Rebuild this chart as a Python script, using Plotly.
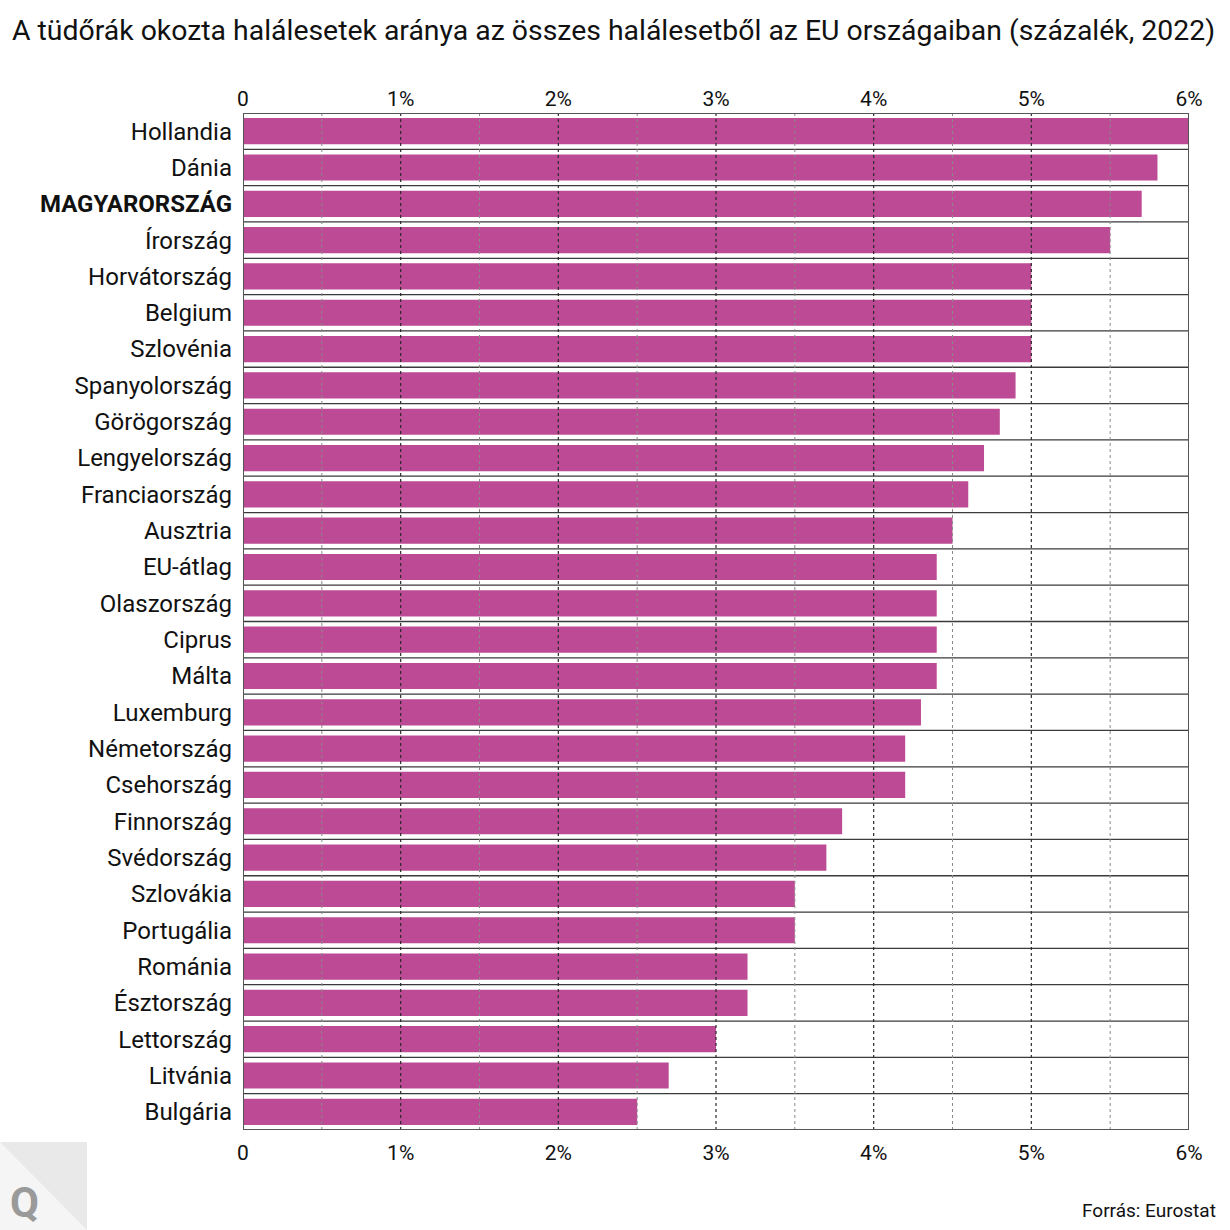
import plotly.graph_objects as go

countries = ["Hollandia", "Dánia", "MAGYARORSZÁG", "Írország", "Horvátország", "Belgium",
             "Szlovénia", "Spanyolország", "Görögország", "Lengyelország", "Franciaország",
             "Ausztria", "EU-átlag", "Olaszország", "Ciprus", "Málta", "Luxemburg",
             "Németország", "Csehország", "Finnország", "Svédország", "Szlovákia",
             "Portugália", "Románia", "Észtország", "Lettország", "Litvánia", "Bulgária"]
values = [6.0, 5.8, 5.7, 5.5, 5.0, 5.0, 5.0, 4.9, 4.8, 4.7, 4.6, 4.5, 4.4, 4.4, 4.4, 4.4,
          4.3, 4.2, 4.2, 3.8, 3.7, 3.5, 3.5, 3.2, 3.2, 3.0, 2.7, 2.5]
tick_vals = [0, 1, 2, 3, 4, 5, 6]
tick_text = ["0", "1%", "2%", "3%", "4%", "5%", "6%"]
minor_vals = [0.5, 1.5, 2.5, 3.5, 4.5, 5.5]
highlight = "MAGYARORSZÁG"

BAR = "#bd4a94"
FONT = "Roboto"
W = H = 1230
L, R, T, B = 243, 41, 113, 100

n = len(countries)
ylabels = [f"<b>{c}</b>" if c == highlight else c for c in countries]

fig = go.Figure()
fig.add_trace(go.Bar(
    x=values, y=list(range(n)), orientation="h",
    marker=dict(color=BAR, line=dict(width=0)),
    width=0.72, hoverinfo="x+y", showlegend=False,
))
# invisible trace to activate the bottom axis
fig.add_trace(go.Scatter(x=[0, 6], y=[0, 0], xaxis="x2", mode="markers",
                         marker=dict(opacity=0), hoverinfo="skip", showlegend=False))

shapes = []
for i in range(n - 1):
    shapes.append(dict(type="line", xref="x", yref="y", x0=0, x1=6, y0=i + 0.5, y1=i + 0.5,
                       line=dict(color="#3a3a3a", width=1.3), layer="above"))
for v in minor_vals:
    shapes.append(dict(type="line", xref="x", yref="y", x0=v, x1=v, y0=-0.5, y1=n - 0.5,
                       line=dict(color="#8a8a8a", width=1, dash="3px,3px"), layer="above"))
for v in tick_vals[1:-1]:
    shapes.append(dict(type="line", xref="x", yref="y", x0=v, x1=v, y0=-0.5, y1=n - 0.5,
                       line=dict(color="#2a2a2a", width=1.2, dash="3px,3px"), layer="above"))
shapes.append(dict(type="rect", xref="x", yref="y", x0=0, x1=6, y0=-0.5, y1=n - 0.5,
                   line=dict(color="#555555", width=2), layer="above"))


def px_x(p):
    return (p - L) / (W - L - R)


def px_y(p):
    return (H - B - p) / (H - T - B)


# logo
shapes.append(dict(type="rect", xref="paper", yref="paper",
                   x0=px_x(0), x1=px_x(87), y0=px_y(1230), y1=px_y(1142),
                   fillcolor="#f5f5f5", line=dict(width=0), layer="below"))
shapes.append(dict(type="path", xref="paper", yref="paper",
                   path=f"M {px_x(0)} {px_y(1142)} L {px_x(87)} {px_y(1142)} L {px_x(87)} {px_y(1230)} Z",
                   fillcolor="#e9e9e9", line=dict(width=0), layer="below"))

fig.update_layout(
    width=W, height=H,
    margin=dict(l=L, r=R, t=T, b=B),
    paper_bgcolor="white", plot_bgcolor="white",
    font=dict(family=FONT, color="#111111"),
    xaxis=dict(range=[0, 6], side="top", tickvals=tick_vals, ticktext=tick_text,
               showgrid=False, zeroline=False, showline=False, ticks="",
               ticklabelstandoff=2,
               tickfont=dict(size=21, color="#111111"), fixedrange=True),
    xaxis2=dict(range=[0, 6], side="bottom", overlaying="x", anchor="y",
                tickvals=tick_vals, ticktext=tick_text,
                showgrid=False, zeroline=False, showline=False, ticks="",
                ticklabelstandoff=8,
                tickfont=dict(size=21, color="#111111"), fixedrange=True),
    yaxis=dict(range=[n - 0.5, -0.5], tickvals=list(range(n)), ticktext=ylabels,
               showgrid=False, zeroline=False, showline=False, ticks="",
               ticklabelstandoff=10,
               tickfont=dict(size=24, color="#111111"), fixedrange=True),
    title=dict(text="A tüdőrák okozta halálesetek aránya az összes halálesetből az EU országaiban (százalék, 2022)",
               x=12 / W, xref="container", xanchor="left",
               y=1 - 30 / H, yref="container", yanchor="middle",
               font=dict(size=28.4, family=FONT, color="#111111")),
    shapes=shapes,
)

fig.add_annotation(text="<b>Q</b>", xref="paper", yref="paper", x=px_x(24), y=px_y(1202),
                   showarrow=False, font=dict(size=42, color="#9a9a9a", family="Roboto"),
                   xanchor="center", yanchor="middle")
fig.add_annotation(text="Forrás: Eurostat", xref="paper", yref="paper", x=px_x(1218), y=px_y(1210),
                   showarrow=False, font=dict(size=19, color="#111111", family=FONT),
                   xanchor="right", yanchor="middle")

fig.write_html("out.html", config={"displayModeBar": False},
               post_script="document.body.style.margin='0';")
